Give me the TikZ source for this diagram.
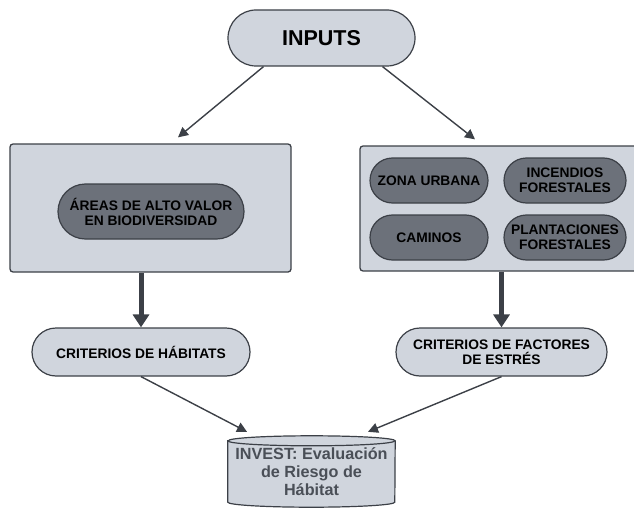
\documentclass[tikz,border=0pt]{standalone}
\usepackage{fontspec}
\setmainfont{Liberation Sans}
\usepackage{xcolor}
\usetikzlibrary{shapes.misc, arrows.meta, positioning, backgrounds}
\definecolor{boxgray}{HTML}{D0D5DD}
\definecolor{pilldark}{HTML}{6C717A}
\definecolor{edgegray}{HTML}{3C4047}
\definecolor{dbtext}{HTML}{4A4F57}
\tikzset{
  pill/.style={rounded rectangle, draw=edgegray, line width=1.2pt, fill=boxgray, align=center, font=\fontsize{13.8}{15}\selectfont\bfseries, inner sep=2pt},
  darkpill/.style={pill, fill=pilldark},
  panel/.style={draw=edgegray, line width=1.3pt, fill=boxgray, rounded corners=3pt},
  arr/.style={-{Triangle[length=10pt,width=10pt]}, line width=1.4pt, draw=edgegray},
  fatarr/.style={-{Triangle[length=13pt,width=16pt]}, line width=5pt, draw=edgegray},
  dbnode/.style={minimum width=167pt, minimum height=71pt, align=center, text=dbtext, font=\fontsize{16.2}{18}\selectfont\bfseries, inner sep=0pt},
  dbline/.style={draw=edgegray, line width=1.2pt},
}

\begin{document}
\begin{tikzpicture}[x=1pt, y=-1pt]
  \clip (0,0) rectangle (634,508);
  \node[pill, minimum width=191pt, minimum height=56pt, font=\fontsize{21.5}{24}\selectfont\bfseries] (inputs) at (321.5,38) {INPUTS};
  \node[panel, minimum width=281pt, minimum height=128pt] (habbox) at (150.5,208) {};
  \node[panel, minimum width=290pt, minimum height=125pt] (strbox) at (505,208.5) {};
  \node[darkpill, minimum width=190pt, minimum height=55pt] (areas) at (151,211.5) {ÁREAS DE ALTO VALOR\\EN BIODIVERSIDAD};
  \node[darkpill, minimum width=122pt, minimum height=45pt] (zona) at (429,180.5) {ZONA URBANA};
  \node[darkpill, minimum width=126pt, minimum height=45pt] (incendios) at (565,180.5) {INCENDIOS\\FORESTALES};
  \node[darkpill, minimum width=122pt, minimum height=45pt] (caminos) at (429,237.5) {CAMINOS};
  \node[darkpill, minimum width=126pt, minimum height=45pt] (plantac) at (565,237.5) {PLANTACIONES\\FORESTALES};
  \node[pill, minimum width=222pt, minimum height=48pt] (habcrit) at (141,352) {CRITERIOS DE HÁBITATS};
  \node[pill, minimum width=215pt, minimum height=48pt] (strcrit) at (501.5,352) {CRITERIOS DE FACTORES\\DE ESTRÉS};
  \node[dbnode] (invest) at (311.5,471.5) {INVEST: Evaluación\\de Riesgo de\\Hábitat};
  \begin{scope}[on background layer]
    \draw[dbline, fill=boxgray] ([yshift=-5pt]invest.north west) -- ([yshift=5pt]invest.south west)
      arc[start angle=180, end angle=360, x radius=83.5pt, y radius=5pt]
      -- ([yshift=-5pt]invest.north east)
      arc[start angle=0, end angle=180, x radius=83.5pt, y radius=5pt] -- cycle;
    \draw[dbline] ([yshift=-5pt]invest.north west) arc[start angle=180, end angle=360, x radius=83.5pt, y radius=5pt];
  \end{scope}
  \draw[arr] ([xshift=-58pt]inputs.south) -- ([xshift=27.5pt,yshift=6pt]habbox.north);
  \draw[arr] ([xshift=61pt]inputs.south) -- ([xshift=-30pt,yshift=6pt]strbox.north);
  \draw[fatarr] (habcrit.north |- habbox.south) -- (habcrit.north);
  \draw[fatarr] (strcrit.north |- strbox.south) -- (strcrit.north);
  \draw[arr] (habcrit.south) -- ([xshift=-64.5pt,yshift=4pt]invest.north);
  \draw[arr] (strcrit.south) -- ([xshift=56.5pt,yshift=4pt]invest.north);
\end{tikzpicture}
\end{document}
